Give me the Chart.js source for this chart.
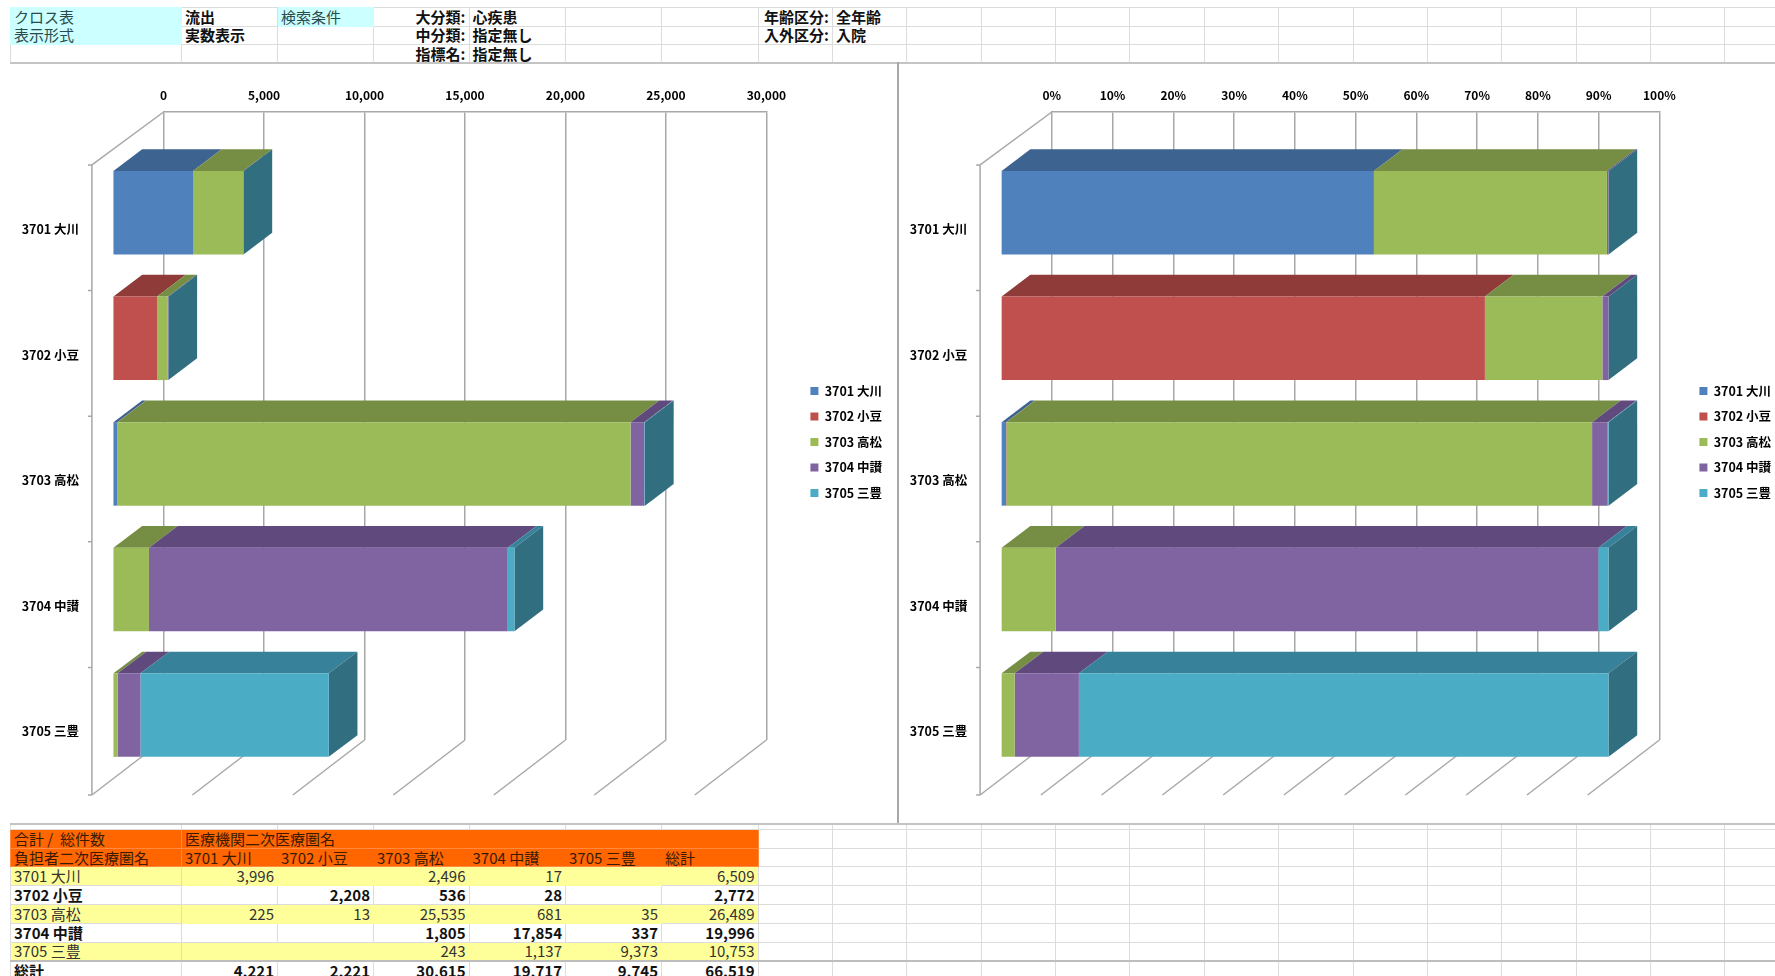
<!DOCTYPE html>
<html lang="ja">
<head>
<meta charset="utf-8">
<title>流出 クロス表</title>
<script src="https://cdn.jsdelivr.net/npm/chart.js@4/dist/chart.umd.min.js"></script>
<style>
  html, body { margin: 0; padding: 0; background: #fff; overflow: hidden; width: 1775px; height: 976px; }
  body { font-family: "Noto Sans CJK JP", sans-serif; color: #111; position: relative; }
  table { position: absolute; left: 10px; border-collapse: collapse; table-layout: fixed; width: 1765px; font-size: 15px; }
  td { border: 1px solid #dcdcdc; padding: 0 3px; white-space: nowrap; overflow: hidden; line-height: 16px; box-sizing: border-box; }
  #head { top: 7px; }
  #head tr { height: 18.6px; }
  #head tr:last-child td { border-bottom: 2px solid #c4c4c4; }
  .cyan { background: #ccffff; color: #2a4a4c; border-color: #ccffff; }
  .b { font-weight: 700; }
  .r { text-align: right; }
  #grid { top: 823px; }
  #grid tr { height: 18.8px; }
  #grid tr.spacer { height: 5.4px; }
  #grid tr.spacer td { padding: 0; line-height: 0; border-top: 2px solid #c4c4c4; }
  #grid td.o { background: #ff6600; color: #3a1a00; border-color: #ff8a40; }
  #grid td.y { background: #ffff99; color: #333; border-color: #ffff99; }
  #grid td.ye { background: #ffff99; color: #333; border-left-color: #dcdcdc; }
  #grid tr.total td { border-top: 2px solid #bdbdbd; }
  canvas { position: absolute; display: block; }
  #chartLeft { left: 10px; top: 62px; }
  #chartRight { left: 898px; top: 62px; }
  #split { position: absolute; left: 897px; top: 62px; width: 2px; height: 761px; background: #a8a8a8; }
</style>
</head>
<body>
<table id="head"></table>
<table id="grid"></table>
<canvas id="chartLeft" width="882" height="760"></canvas>
<canvas id="chartRight" width="883" height="760"></canvas>
<div id="split"></div>
<script>
// values read from the sheet
const categories = ['3701 大川', '3702 小豆', '3703 高松', '3704 中讃', '3705 三豊']
const from3701 = [3996, 0, 225, 0, 0]
const from3702 = [0, 2208, 13, 0, 0]
const from3703 = [2496, 536, 25535, 1805, 243]
const from3704 = [17, 28, 681, 17854, 1137]
const from3705 = [0, 0, 35, 337, 9373]
const rowTotals = [6509, 2772, 26489, 19996, 10753]
const columnTotals = [4221, 2221, 30615, 19717, 9745]
const grandTotal = 66519

const seriesValues = [from3701, from3702, from3703, from3704, from3705]
const faceColors = ['#4f81bd', '#c0504d', '#9bbb59', '#8064a2', '#4bacc6']
const topColors = ['#3d6390', '#8f3b39', '#768e44', '#60497c', '#37829a']
const sideColor = '#316f80'

const headRows = [
  ['クロス表', '流出', '検索条件', '大分類:', '心疾患', '', '', '年齢区分:', '全年齢'],
  ['表示形式', '実数表示', '', '中分類:', '指定無し', '', '', '入外区分:', '入院'],
  ['', '', '', '指標名:', '指定無し', '', '', '', '']
]
const columnWidths = [171, 96, 96, 95.5, 96.5, 96, 96.5, 74.5, 73.7, 75.3, 73.7, 74.8, 74.3, 74.2, 74.8, 74.2, 73.7, 75.3, 74, 74.5, 50.5]

// sheet cells around the charts
function colgroup () {
  return '<colgroup>' + columnWidths.map(function (w) { return '<col style="width:' + w + 'px">' }).join('') + '</colgroup>'
}
function emptyCells (n) {
  let out = ''
  for (let i = 0; i < n; i++) out += '<td></td>'
  return out
}
function number (v) {
  return v ? v.toLocaleString('en-US') : ''
}

let headHtml = colgroup()
headRows.forEach(function (row, r) {
  headHtml += '<tr>'
  row.forEach(function (text, c) {
    let cls = ''
    if (c === 0 && r < 2) cls = 'cyan'
    if (c === 2 && r === 0) cls = 'cyan'
    if (c === 1 || c === 3 || c === 4 || c === 7 || c === 8) cls = 'b'
    if (c === 3 || c === 7) cls += ' r'
    headHtml += '<td class="' + cls + '">' + text + '</td>'
  })
  headHtml += emptyCells(columnWidths.length - row.length) + '</tr>'
})
document.getElementById('head').innerHTML = headHtml

const spare = columnWidths.length - 7
let gridHtml = colgroup() + '<tr class="spacer">' + emptyCells(columnWidths.length) + '</tr>'
gridHtml += '<tr><td class="o">合計&nbsp;/&nbsp;&nbsp;総件数</td><td class="o" colspan="6">医療機関二次医療圏名</td>' + emptyCells(spare) + '</tr>'
gridHtml += '<tr><td class="o">負担者二次医療圏名</td>'
categories.forEach(function (name) {
  gridHtml += '<td class="o" style="border-left-color:#ff6600;border-right-color:#ff6600">' + name + '</td>'
})
gridHtml += '<td class="o">総計</td>' + emptyCells(spare) + '</tr>'
categories.forEach(function (name, i) {
  const yellow = i % 2 === 0
  const inner = yellow ? 'y' : 'b'
  gridHtml += '<tr><td class="' + (yellow ? 'ye' : 'b') + '">' + name + '</td>'
  seriesValues.forEach(function (vals) {
    gridHtml += '<td class="r ' + inner + '">' + number(vals[i]) + '</td>'
  })
  gridHtml += '<td class="r ' + (yellow ? 'ye' : 'b') + '">' + number(rowTotals[i]) + '</td>' + emptyCells(spare) + '</tr>'
})
gridHtml += '<tr class="total"><td class="b">総計</td>'
columnTotals.forEach(function (v) { gridHtml += '<td class="r b">' + number(v) + '</td>' })
gridHtml += '<td class="r b">' + number(grandTotal) + '</td>' + emptyCells(spare) + '</tr>'
document.getElementById('grid').innerHTML = gridHtml

// fake 3D box, the bars stay normal Chart.js bars
const lineColor = '#a8a8a8'
const wallDepth = { x: -71.7, top: 53, bottom: 55 }
const faceShift = { x: -50.9, y: 37.9 }
const barDepth = { x: 28.7, y: -21.7 }

function poly (ctx, color, pts) {
  ctx.fillStyle = color
  ctx.beginPath()
  ctx.moveTo(pts[0][0], pts[0][1])
  for (let i = 1; i < pts.length; i++) ctx.lineTo(pts[i][0], pts[i][1])
  ctx.closePath()
  ctx.fill()
}

const box3d = {
  id: 'box3d',
  beforeDatasetsDraw: function (chart) {
    const ctx = chart.ctx
    const area = chart.chartArea
    const x = chart.scales.x
    const y = chart.scales.y
    ctx.save()
    ctx.strokeStyle = lineColor
    ctx.lineWidth = 1.5
    ctx.beginPath()
    x.ticks.forEach(function (t) {
      const px = x.getPixelForValue(t.value)
      ctx.moveTo(px, area.bottom)
      ctx.lineTo(px + wallDepth.x, area.bottom + wallDepth.bottom)
    })
    const frontX = area.left + wallDepth.x
    ctx.moveTo(area.left, area.top)
    ctx.lineTo(frontX, area.top + wallDepth.top)
    ctx.lineTo(frontX, area.bottom + wallDepth.bottom)
    categories.forEach(function (c, i) {
      const band = y.getPixelForValue(i) - y.height / categories.length / 2 + wallDepth.top
      ctx.moveTo(frontX - 4, band)
      ctx.lineTo(frontX, band)
    })
    ctx.moveTo(frontX - 4, area.bottom + wallDepth.bottom)
    ctx.lineTo(frontX, area.bottom + wallDepth.bottom)
    ctx.stroke()
    ctx.restore()

    // the bars get moved onto their plane until afterDatasetsDraw
    ctx.save()
    ctx.translate(faceShift.x, faceShift.y)
    const last = chart.data.datasets.length - 1
    chart.data.datasets.forEach(function (ds, d) {
      chart.getDatasetMeta(d).data.forEach(function (bar) {
        const top = bar.y - bar.height / 2
        const bottom = bar.y + bar.height / 2
        if (bar.x !== bar.base) {
          poly(ctx, topColors[d], [[bar.base, top], [bar.x, top], [bar.x + barDepth.x, top + barDepth.y], [bar.base + barDepth.x, top + barDepth.y]])
        }
        if (d === last) {
          poly(ctx, sideColor, [[bar.x, top], [bar.x + barDepth.x, top + barDepth.y], [bar.x + barDepth.x, bottom + barDepth.y], [bar.x, bottom]])
        }
      })
    })
  },
  afterDatasetsDraw: function (chart) {
    chart.ctx.restore()
  }
}

Chart.defaults.font.family = '"Noto Sans CJK JP", sans-serif'
Chart.defaults.font.size = 12
Chart.defaults.font.weight = 'bold'
Chart.defaults.color = '#000'

function makeChart (id, data, xMax, xStep, xFormat, leftWidth, legendGap) {
  return new Chart(document.getElementById(id), {
    type: 'bar',
    plugins: [box3d],
    data: {
      labels: categories,
      datasets: data.map(function (vals, i) {
        return {
          label: categories[i],
          data: vals,
          backgroundColor: faceColors[i],
          borderWidth: 0,
          clip: false,
          categoryPercentage: 0.665,
          barPercentage: 1,
          xAxisID: 'x',
          yAxisID: 'y'
        }
      })
    },
    options: {
      indexAxis: 'y',
      responsive: false,
      animation: false,
      devicePixelRatio: 1,
      layout: { padding: 0 },
      plugins: {
        tooltip: { enabled: false },
        legend: {
          position: 'right',
          labels: { boxWidth: 8, boxHeight: 8, padding: 13, font: { size: 12.5 } }
        }
      },
      scales: {
        x: {
          type: 'linear',
          position: 'top',
          stacked: true,
          min: 0,
          max: xMax,
          afterFit: function (s) { s.height = 50 },
          grid: { color: lineColor, lineWidth: 1.5, drawTicks: false },
          border: { color: lineColor, width: 1.5 },
          ticks: { stepSize: xStep, padding: 9, maxRotation: 0, callback: xFormat }
        },
        y: {
          type: 'category',
          stacked: true,
          afterFit: function (s) {
            s.width = leftWidth
            s.paddingTop = 0
            s.paddingBottom = 0
          },
          grid: { display: false, drawTicks: false },
          border: { display: false },
          ticks: { padding: 84.6, labelOffset: 54.5, autoSkip: false, font: { size: 12.5 } }
        },
        // empty axes, only hold the room under the box and before the legend
        floorGap: {
          type: 'linear',
          axis: 'x',
          position: 'bottom',
          afterFit: function (s) { s.height = 82 },
          grid: { display: false },
          border: { display: false },
          ticks: { display: false }
        },
        legendGap: {
          type: 'linear',
          axis: 'y',
          position: 'right',
          afterFit: function (s) { s.width = legendGap },
          grid: { display: false },
          border: { display: false },
          ticks: { display: false }
        }
      }
    }
  })
}

const shareValues = seriesValues.map(function (vals) {
  return vals.map(function (v, i) { return v / rowTotals[i] * 100 })
})

makeChart('chartLeft', seriesValues, 30000, 5000, function (v) { return v.toLocaleString('en-US') }, 153.6, 31)
makeChart('chartRight', shareValues, 100, 10, function (v) { return v + '%' }, 153.8, 27)
</script>
</body>
</html>
